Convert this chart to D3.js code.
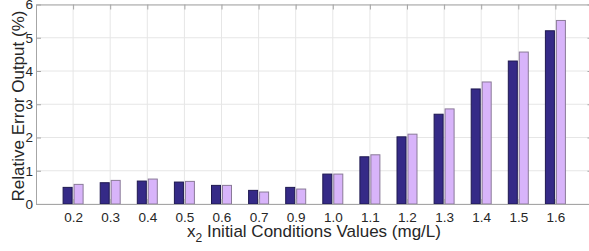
<!DOCTYPE html>
<html lang="en">
<head>
    <meta charset="UTF-8">
    <title>Relative Error Output</title>
    <style>
        body {
            margin: 0;
            padding: 0;
            background: #fff;
            font-family: "Liberation Sans", Arial, sans-serif;
        }
        svg { display: block; }
        .grid line { stroke: #e6e6e6; stroke-width: 1px; }
        .axis path, .axis line { stroke: #a6a6a6; }
        .axis text { fill: #262626; font-size: 13.5px; font-family: "Liberation Sans", Arial, sans-serif; }
        .label { fill: #262626; font-size: 17px; font-family: "Liberation Sans", Arial, sans-serif; }
    </style>
</head>
<body>
    <div id="chart"></div>

    <script src="https://d3js.org/d3.v7.min.js"></script>
    <script>
        // values
        const categories = ["0.2", "0.3", "0.4", "0.5", "0.6", "0.7", "0.9", "1.0", "1.1", "1.2", "1.3", "1.4", "1.5", "1.6"];
        const seriesA = [0.50, 0.64, 0.69, 0.66, 0.56, 0.41, 0.50, 0.90, 1.42, 2.02, 2.70, 3.46, 4.30, 5.21];
        const seriesB = [0.59, 0.71, 0.75, 0.68, 0.56, 0.36, 0.45, 0.90, 1.48, 2.10, 2.86, 3.67, 4.57, 5.52];
        const yTicks = [0, 1, 2, 3, 4, 5, 6];

        const width = 589, height = 251;
        const margin = { left: 36, right: 592.5, top: 4.5, bottom: 204 };

        const svg = d3.select("#chart")
            .append("svg")
            .attr("width", width)
            .attr("height", height);

        // category i sits at position i + 1, axis runs 0..n+1
        const x = d3.scaleLinear()
            .domain([0, categories.length + 1])
            .range([margin.left, margin.right]);

        const y = d3.scaleLinear()
            .domain([0, 6])
            .range([margin.bottom, margin.top]);

        const xTickPos = categories.map((c, i) => i + 1);

        // grid
        const grid = svg.append("g").attr("class", "grid");
        grid.selectAll(".gx")
            .data(xTickPos)
            .enter().append("line")
            .attr("x1", d => x(d)).attr("x2", d => x(d))
            .attr("y1", margin.top).attr("y2", margin.bottom);
        grid.selectAll(".gy")
            .data(yTicks)
            .enter().append("line")
            .attr("x1", margin.left).attr("x2", margin.right)
            .attr("y1", d => y(d)).attr("y2", d => y(d));

        // bars
        const off = 0.148, bw = 0.243;
        const series = [
            { values: seriesA, shift: -off, fill: "#352a87", stroke: "#1e1850" },
            { values: seriesB, shift: off, fill: "#d8b4fa", stroke: "#8a7a98" }
        ];

        series.forEach(s => {
            svg.append("g")
                .selectAll("rect")
                .data(s.values)
                .enter().append("rect")
                .attr("x", (d, i) => x(i + 1 + s.shift - bw / 2))
                .attr("width", x(bw) - x(0))
                .attr("y", d => y(d))
                .attr("height", d => y(0) - y(d))
                .attr("fill", s.fill)
                .attr("stroke", s.stroke)
                .attr("stroke-width", 1);
        });

        // axes (ticks inward, box on)
        const tickLen = 5;
        svg.append("g")
            .attr("class", "axis")
            .attr("transform", "translate(0," + margin.bottom + ")")
            .call(d3.axisBottom(x).tickValues(xTickPos)
                .tickFormat((d, i) => categories[i])
                .tickSizeInner(-tickLen).tickSizeOuter(0).tickPadding(8));

        svg.append("g")
            .attr("class", "axis")
            .attr("transform", "translate(0," + margin.top + ")")
            .call(d3.axisTop(x).tickValues(xTickPos)
                .tickFormat("")
                .tickSizeInner(-tickLen).tickSizeOuter(0));

        svg.append("g")
            .attr("class", "axis")
            .attr("transform", "translate(" + margin.left + ",0)")
            .call(d3.axisLeft(y).tickValues(yTicks)
                .tickFormat(d3.format("d"))
                .tickSizeInner(-tickLen).tickSizeOuter(0).tickPadding(3));

        svg.append("g")
            .attr("class", "axis")
            .attr("transform", "translate(" + margin.right + ",0)")
            .call(d3.axisRight(y).tickValues(yTicks)
                .tickFormat("")
                .tickSizeInner(-tickLen).tickSizeOuter(0));

        // axis titles
        svg.append("text")
            .attr("class", "label")
            .attr("transform", "translate(24," + 106 + ") rotate(-90)")
            .attr("text-anchor", "middle")
            .text("Relative Error Output (%)");

        const xl = svg.append("text")
            .attr("class", "label")
            .attr("x", 314)
            .attr("y", 237)
            .attr("text-anchor", "middle");
        xl.append("tspan").text("x");
        xl.append("tspan").attr("dy", 5).attr("font-size", "12px").text("2");
        xl.append("tspan").attr("dy", -5).text(" Initial Conditions Values (mg/L)");
    </script>
</body>
</html>
